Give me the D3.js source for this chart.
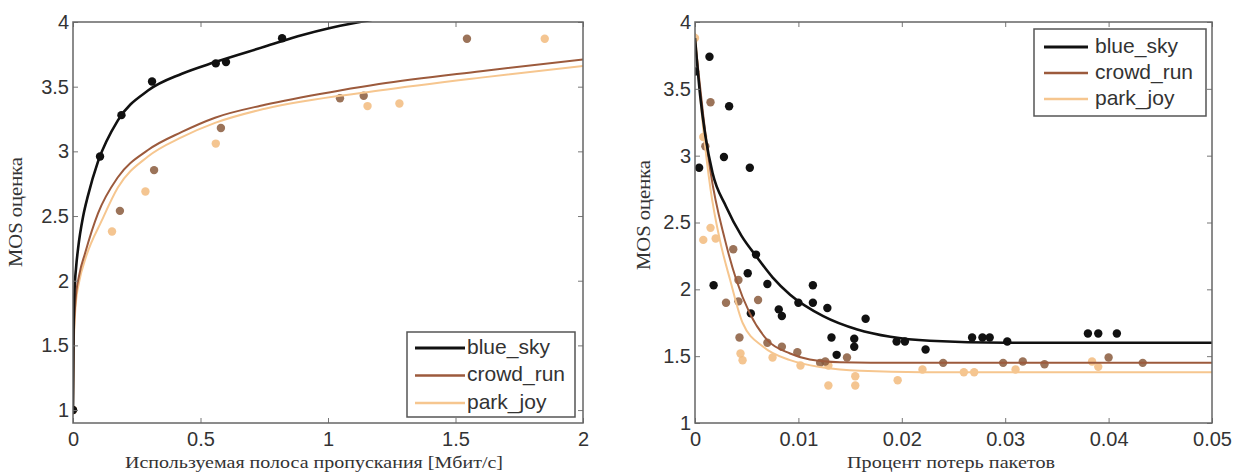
<!DOCTYPE html>
<html>
<head>
<meta charset="utf-8">
<script src="https://cdn.jsdelivr.net/npm/d3@7"></script>
<style>
  body { margin: 0; background: #fff; }
  svg { display: block; }
  .tick text { font-family: "Liberation Sans", Arial, sans-serif; font-size: 20px; fill: #333; }
  .tick line { stroke: #777; stroke-width: 1px; }
</style>
</head>
<body>
<div id="chart"></div>
<script>
// series names shared by both panels
const seriesNames = ["blue_sky", "crowd_run", "park_joy"];

// left panel: MOS vs used bandwidth (Mbit/s)
const bwTicksX = [0, 0.5, 1, 1.5, 2];
const bwTicksY = [1, 1.5, 2, 2.5, 3, 3.5, 4];
const bwBlueSkyPts = [[0, 1], [0.106, 2.96], [0.19, 3.28], [0.31, 3.54], [0.56, 3.68], [0.60, 3.69], [0.82, 3.875]];
const bwCrowdRunPts = [[0, 1], [0.184, 2.54], [0.318, 2.855], [0.58, 3.18], [1.047, 3.41], [1.14, 3.43], [1.545, 3.87]];
const bwParkJoyPts = [[0, 1], [0.153, 2.38], [0.284, 2.69], [0.56, 3.06], [1.155, 3.35], [1.28, 3.37], [1.85, 3.87]];
const bwBlueSkyFit = [[0, 1], [0.002, 1.6], [0.006, 1.92], [0.012, 2.1], [0.02, 2.25], [0.04, 2.5], [0.059, 2.66], [0.098, 2.92],
  [0.176, 3.24], [0.294, 3.47], [0.427, 3.60], [0.557, 3.69], [0.753, 3.81], [0.9, 3.9], [1.0, 3.95], [1.125, 4.0], [1.3, 4.06]];
const bwCrowdRunFit = [[0, 1], [0.003, 1.55], [0.01, 1.85], [0.025, 2.05], [0.047, 2.21], [0.098, 2.52], [0.176, 2.80], [0.294, 3.01],
  [0.427, 3.15], [0.557, 3.26], [0.753, 3.36], [1.047, 3.47], [1.2, 3.52], [1.6, 3.62], [2.0, 3.71]];
const bwParkJoyFit = [[0, 1], [0.003, 1.5], [0.01, 1.8], [0.025, 2.0], [0.047, 2.16], [0.114, 2.47], [0.176, 2.72], [0.294, 2.96],
  [0.427, 3.11], [0.557, 3.22], [0.753, 3.33], [1.2, 3.47], [1.6, 3.57], [2.0, 3.66]];

// right panel: MOS vs packet loss rate
const lossTicksX = [0, 0.01, 0.02, 0.03, 0.04, 0.05];
const lossTicksY = [1, 1.5, 2, 2.5, 3, 3.5, 4];
const lossBlueSkyPts = [[0, 3.63], [0.0004, 2.91], [0.0014, 3.74], [0.0018, 2.03], [0.0028, 2.99], [0.0033, 3.37], [0.0051, 2.12],
  [0.0053, 2.91], [0.0054, 1.82], [0.0059, 2.26], [0.007, 2.04], [0.0081, 1.85], [0.0084, 1.80], [0.010, 1.90], [0.0114, 2.03],
  [0.0114, 1.90], [0.0128, 1.86], [0.0132, 1.64], [0.0137, 1.51], [0.0154, 1.63], [0.0154, 1.57], [0.0165, 1.78], [0.0195, 1.61],
  [0.0203, 1.61], [0.0223, 1.55], [0.0268, 1.64], [0.0278, 1.64], [0.0285, 1.64], [0.0302, 1.61], [0.038, 1.67], [0.039, 1.67],
  [0.0408, 1.67]];
const lossCrowdRunPts = [[0.0015, 3.40], [0.001, 3.07], [0.0037, 2.30], [0.0042, 2.07], [0.003, 1.90], [0.0042, 1.91], [0.0043, 1.64],
  [0.0061, 1.92], [0.007, 1.60], [0.0084, 1.57], [0.0099, 1.53], [0.0121, 1.45], [0.0126, 1.46], [0.0147, 1.49], [0.024, 1.45],
  [0.0298, 1.45], [0.0317, 1.46], [0.0338, 1.44], [0.040, 1.49], [0.0433, 1.45]];
const lossParkJoyPts = [[0, 3.88], [0.0008, 3.14], [0.0015, 2.46], [0.0008, 2.37], [0.002, 2.38], [0.0044, 1.52], [0.0046, 1.47],
  [0.0075, 1.49], [0.0102, 1.43], [0.0129, 1.43], [0.0129, 1.28], [0.0155, 1.35], [0.0155, 1.28], [0.0196, 1.32], [0.022, 1.40],
  [0.026, 1.38], [0.027, 1.38], [0.031, 1.40], [0.0384, 1.46], [0.039, 1.42]];
const lossBlueSkyFit = [[0, 3.88], [0.0005, 3.45], [0.001, 3.15], [0.0017, 2.87], [0.003, 2.62], [0.0045, 2.40], [0.006, 2.24],
  [0.0075, 2.09], [0.0092, 1.96], [0.0124, 1.80], [0.0157, 1.70], [0.0189, 1.645], [0.0227, 1.615], [0.03, 1.60], [0.05, 1.60]];
const lossCrowdRunFit = [[0, 3.86], [0.0008, 3.3], [0.0015, 2.88], [0.0029, 2.37], [0.004, 2.07], [0.0053, 1.82], [0.007, 1.62],
  [0.0092, 1.52], [0.0111, 1.475], [0.014, 1.455], [0.02, 1.45], [0.05, 1.45]];
const lossParkJoyFit = [[0, 3.92], [0.0008, 3.2], [0.0015, 2.75], [0.0024, 2.37], [0.0034, 2.07], [0.0046, 1.75], [0.0066, 1.57],
  [0.0092, 1.47], [0.0124, 1.415], [0.016, 1.39], [0.022, 1.38], [0.05, 1.38]];

const lineColor = { blue_sky: "#111", crowd_run: "#9c5a3c", park_joy: "#f6c68f" };
const dotColor = { blue_sky: "#111", crowd_run: "#8a5b3c", park_joy: "#f2bb7e" };
const lineWidth = { blue_sky: 2.6, crowd_run: 2, park_joy: 2 };

const svg = d3.select("#chart").append("svg").attr("width", 1236).attr("height", 474);

function drawPanel(p) {
  const x = d3.scaleLinear().domain(p.xDomain).range([p.left, p.right]);
  const y = d3.scaleLinear().domain(p.yDomain).range([p.bottom, p.top]);
  const g = svg.append("g");

  g.append("rect").attr("x", p.left).attr("y", p.top)
    .attr("width", p.right - p.left).attr("height", p.bottom - p.top).attr("fill", "#fff");

  const clipId = "clip-" + p.id;
  g.append("clipPath").attr("id", clipId).append("rect")
    .attr("x", p.left).attr("y", p.top - 1).attr("width", p.right - p.left).attr("height", p.bottom - p.top + 1);

  const plot = g.append("g").attr("clip-path", `url(#${clipId})`);
  const line = d3.line().x((d) => x(d[0])).y((d) => y(d[1])).curve(d3.curveMonotoneX);

  // markers first, fitted curves on top
  [2, 1, 0].forEach((i) => {
    const name = seriesNames[i];
    plot.selectAll(".dot-" + name).data(p.points[i]).enter().append("circle")
      .attr("cx", (d) => x(d[0])).attr("cy", (d) => y(d[1])).attr("r", 4.2)
      .attr("fill", dotColor[name]).attr("fill-opacity", name === "blue_sky" ? 1 : 0.85);
  });
  [2, 1, 0].forEach((i) => {
    const name = seriesNames[i];
    plot.append("path").datum(p.fits[i]).attr("d", line)
      .attr("fill", "none").attr("stroke", lineColor[name]).attr("stroke-width", lineWidth[name]);
  });

  // axes, MATLAB style box with inward ticks
  g.append("g").attr("transform", `translate(0,${p.bottom})`)
    .call(d3.axisBottom(x).tickValues(p.xTicks).tickSize(-5).tickPadding(9).tickFormat(d3.format("~g")));
  g.append("g").attr("transform", `translate(${p.left},0)`)
    .call(d3.axisLeft(y).tickValues(p.yTicks).tickSize(-5).tickPadding(4).tickFormat(d3.format("~g")));
  g.append("g").attr("transform", `translate(0,${p.top})`)
    .call(d3.axisTop(x).tickValues(p.xTicks).tickSize(-5).tickFormat(""));
  g.append("g").attr("transform", `translate(${p.right},0)`)
    .call(d3.axisRight(y).tickValues(p.yTicks).tickSize(-5).tickFormat(""));
  g.selectAll(".domain").remove();
  g.append("rect").attr("x", p.left).attr("y", p.top)
    .attr("width", p.right - p.left).attr("height", p.bottom - p.top)
    .attr("fill", "none").attr("stroke", "#666").attr("stroke-width", 1.5);

  // axis titles
  g.append("text").attr("x", p.xTitlePos[0]).attr("y", p.xTitlePos[1])
    .attr("text-anchor", "middle").attr("dominant-baseline", "middle")
    .attr("font-family", "Liberation Serif, Times New Roman, serif").attr("font-size", 17).attr("fill", "#333")
    .attr("textLength", p.xTitleLen).attr("lengthAdjust", "spacingAndGlyphs")
    .text(p.xTitle);
  g.append("text")
    .attr("transform", `translate(${p.yTitlePos[0]},${p.yTitlePos[1]}) rotate(-90)`)
    .attr("text-anchor", "middle").attr("dominant-baseline", "middle")
    .attr("font-family", "Liberation Serif, Times New Roman, serif").attr("font-size", 19).attr("fill", "#333")
    .attr("textLength", 110).attr("lengthAdjust", "spacingAndGlyphs")
    .text("MOS оценка");

  // legend
  const L = p.legend;
  g.append("rect").attr("x", L.x).attr("y", L.y).attr("width", L.w).attr("height", L.h)
    .attr("fill", "#fff").attr("stroke", "#555").attr("stroke-width", 1.5);
  seriesNames.forEach((name, i) => {
    const cy = L.y + L.firstRow + i * L.rowGap;
    g.append("line").attr("x1", L.x + L.lineX0).attr("x2", L.x + L.lineX1).attr("y1", cy).attr("y2", cy)
      .attr("stroke", lineColor[name]).attr("stroke-width", lineWidth[name] + 0.5);
    g.append("text").attr("x", L.x + L.textX).attr("y", cy).attr("dominant-baseline", "middle")
      .attr("font-family", "Liberation Sans, Arial, sans-serif").attr("font-size", 21).attr("fill", "#333")
      .text(name);
  });
}

drawPanel({
  id: "bw", left: 73, right: 583, top: 22, bottom: 423,
  xDomain: [0, 2], yDomain: [0.9, 4], xTicks: bwTicksX, yTicks: bwTicksY,
  points: [bwBlueSkyPts, bwCrowdRunPts, bwParkJoyPts],
  fits: [bwBlueSkyFit, bwCrowdRunFit, bwParkJoyFit],
  xTitle: "Используемая полоса пропускания [Мбит/с]", xTitlePos: [314, 464], xTitleLen: 378,
  yTitlePos: [18, 212],
  legend: { x: 407, y: 332, w: 168, h: 85, firstRow: 16, rowGap: 27.5, lineX0: 8, lineX1: 58, textX: 60 }
});

drawPanel({
  id: "loss", left: 695, right: 1212, top: 22, bottom: 423,
  xDomain: [0, 0.05], yDomain: [1, 4], xTicks: lossTicksX, yTicks: lossTicksY,
  points: [lossBlueSkyPts, lossCrowdRunPts, lossParkJoyPts],
  fits: [lossBlueSkyFit, lossCrowdRunFit, lossParkJoyFit],
  xTitle: "Процент потерь пакетов", xTitlePos: [951, 464], xTitleLen: 208,
  yTitlePos: [646, 215],
  legend: { x: 1034, y: 29, w: 172, h: 87, firstRow: 18, rowGap: 26, lineX0: 10, lineX1: 54, textX: 61 }
});
</script>
</body>
</html>
